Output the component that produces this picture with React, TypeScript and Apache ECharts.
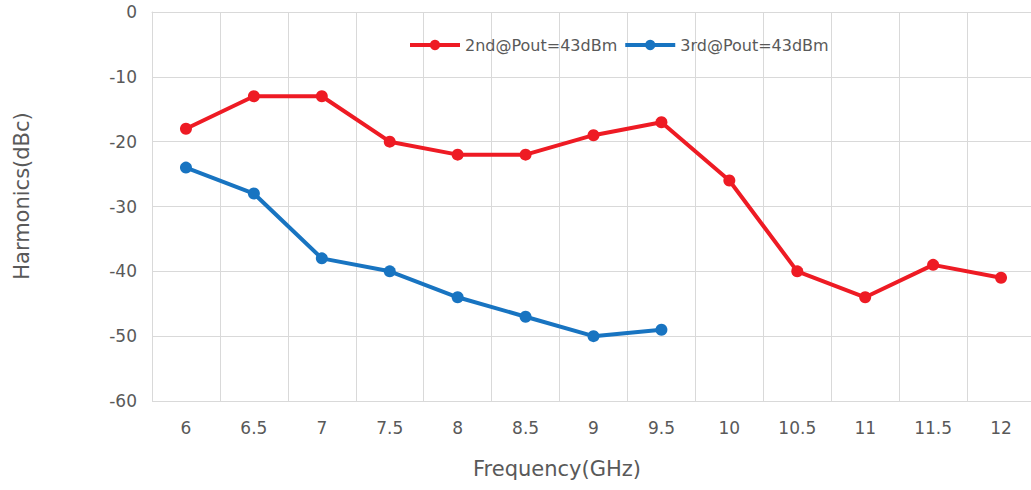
import React, { useEffect, useRef } from "react";
import * as echarts from "echarts";

const categories = ["6", "6.5", "7", "7.5", "8", "8.5", "9", "9.5", "10", "10.5", "11", "11.5", "12"];
const second = [-18, -13, -13, -20, -22, -22, -19, -17, -26, -40, -44, -39, -41];
const third = [-24, -28, -38, -40, -44, -47, -50, -49, null, null, null, null, null];
const seriesNames = ["2nd@Pout=43dBm", "3rd@Pout=43dBm"];
const xTitle = "Frequency(GHz)";
const yTitle = "Harmonics(dBc)";

const FONT = "DejaVu Sans";
const TEXT = "#595959";
const GRID = "#d9d9d9";

export default function App() {
  const ref = useRef<HTMLDivElement>(null);
  useEffect(() => {
    const chart = echarts.init(ref.current!, undefined, { renderer: "svg" });
    chart.setOption({
      animation: false,
      backgroundColor: "#ffffff",
      textStyle: { fontFamily: FONT },
      legend: {
        left: 403,
        top: 32,
        itemWidth: 50,
        itemHeight: 13,
        itemGap: 6,
        lineStyle: { width: 4 },
        textStyle: { color: TEXT, fontSize: 16, fontFamily: FONT },
        data: seriesNames,
      },
      grid: { left: 152, top: 12, right: 5, bottom: 89, containLabel: false },
      graphic: [
        {
          type: "text",
          x: 557,
          y: 469,
          style: {
            text: xTitle,
            fill: TEXT,
            fontSize: 21,
            fontFamily: FONT,
            align: "center",
            verticalAlign: "middle",
          },
        },
        {
          type: "text",
          x: 22,
          y: 196,
          rotation: Math.PI / 2,
          style: {
            text: yTitle,
            fill: TEXT,
            fontSize: 21,
            fontFamily: FONT,
            align: "center",
            verticalAlign: "middle",
          },
        },
      ],
      xAxis: {
        type: "category",
        data: categories,
        boundaryGap: true,
        axisLine: { show: true, lineStyle: { color: GRID, width: 1 } },
        axisTick: { show: false },
        axisLabel: { color: TEXT, fontSize: 17, margin: 18, fontFamily: FONT },
        splitLine: { show: true, lineStyle: { color: GRID, width: 1 } },
      },
      yAxis: {
        type: "value",
        min: -60,
        max: 0,
        interval: 10,
        axisLine: { show: true, lineStyle: { color: GRID, width: 1 } },
        axisTick: { show: false },
        axisLabel: { color: TEXT, fontSize: 17, margin: 15, fontFamily: FONT },
        splitLine: { show: true, lineStyle: { color: GRID, width: 1 } },
      },
      series: [
        {
          name: seriesNames[0],
          type: "line",
          data: second,
          symbol: "circle",
          symbolSize: 12,
          lineStyle: { color: "#EE1B24", width: 4 },
          itemStyle: { color: "#EE1B24" },
        },
        {
          name: seriesNames[1],
          type: "line",
          data: third,
          symbol: "circle",
          symbolSize: 12,
          lineStyle: { color: "#1874C1", width: 4 },
          itemStyle: { color: "#1874C1" },
        },
      ],
    });
    return () => chart.dispose();
  }, []);
  return (
    <div style={{ width: 1031, height: 490, position: "absolute", left: 0, top: 0, overflow: "hidden" }}>
      <div ref={ref} style={{ width: 1040, height: 490, position: "absolute", left: 0, top: 0 }} />
    </div>
  );
}
